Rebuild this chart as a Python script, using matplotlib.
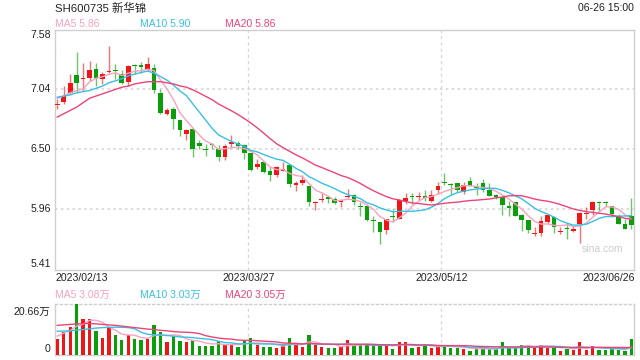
import matplotlib
matplotlib.use("Agg")
import matplotlib.pyplot as plt
import numpy as np
import pandas as pd

plt.rcParams['font.family'] = ['Liberation Sans', 'Noto Sans CJK SC', 'DejaVu Sans']

# ---- data ----
title = "SH600735 新华锦"
stamp = "06-26 15:00"
date_labels = ["2023/02/13", "2023/03/27", "2023/05/12", "2023/06/26"]
price_ticks = [7.58, 7.04, 6.50, 5.96, 5.41]
price_tick_labels = ["7.58", "7.04", "6.50", "5.96", "5.41"]
vol_max = 20.66
ma_text = ["MA5 5.86", "MA10 5.90", "MA20 5.86"]
vma_text = ["MA5 3.08万", "MA10 3.03万", "MA20 3.05万"]

opens = [6.902, 6.929, 7.01, 7.169, 7.13, 7.145, 7.226, 7.13, 7.199, 7.217,
         7.175, 7.106, 7.265, 7.265, 7.22, 7.235, 7.01, 6.821, 6.866, 6.764,
         6.635, 6.68, 6.56, 6.497, 6.542, 6.50, 6.431, 6.551, 6.56, 6.539,
         6.461, 6.335, 6.38, 6.299, 6.266, 6.305, 6.356, 6.179, 6.191, 6.164,
         6.011, 6.041, 6.065, 6.05, 6.02, 6.071, 6.089, 5.987, 5.99, 5.852,
         5.84, 5.771, 5.897, 5.864, 6.035, 6.077, 6.071, 6.08, 6.029, 6.131,
         6.20, 6.179, 6.191, 6.116, 6.215, 6.158, 6.191, 6.131, 6.089, 6.065,
         5.99, 6.02, 5.909, 5.861, 5.732, 5.744, 5.84, 5.891, 5.747, 5.783,
         5.756, 5.825, 5.918, 5.951, 6.023, 6.02, 5.99, 5.90, 5.825, 5.90]
closes = [6.908, 6.98, 7.10, 7.10, 7.139, 7.214, 7.145, 7.175, 7.208, 7.208,
          7.094, 7.25, 7.256, 7.241, 7.271, 7.031, 6.83, 6.851, 6.77, 6.671,
          6.674, 6.50, 6.53, 6.491, 6.536, 6.431, 6.53, 6.569, 6.53, 6.461,
          6.311, 6.365, 6.29, 6.266, 6.341, 6.32, 6.185, 6.197, 6.221, 6.026,
          6.026, 6.05, 6.053, 6.014, 6.041, 6.077, 6.026, 5.981, 5.855, 5.846,
          5.75, 5.864, 5.891, 6.041, 6.059, 6.071, 6.077, 6.059, 6.089, 6.17,
          6.191, 6.173, 6.134, 6.179, 6.17, 6.152, 6.131, 6.08, 6.065, 5.999,
          5.969, 5.90, 5.861, 5.765, 5.738, 5.849, 5.906, 5.795, 5.753, 5.777,
          5.78, 5.921, 5.924, 6.02, 6.017, 6.011, 5.915, 5.819, 5.774, 5.81]
highs = [6.95, 7.07, 7.181, 7.379, 7.28, 7.301, 7.28, 7.199, 7.43, 7.271,
         7.22, 7.259, 7.274, 7.289, 7.331, 7.271, 7.04, 6.875, 6.881, 6.764,
         6.68, 6.68, 6.581, 6.551, 6.56, 6.539, 6.551, 6.629, 6.575, 6.545,
         6.461, 6.41, 6.395, 6.335, 6.35, 6.38, 6.356, 6.215, 6.269, 6.164,
         6.035, 6.11, 6.071, 6.071, 6.047, 6.14, 6.095, 6.02, 5.999, 5.90,
         5.84, 5.87, 5.96, 6.05, 6.104, 6.104, 6.11, 6.131, 6.131, 6.20,
         6.284, 6.191, 6.191, 6.20, 6.245, 6.191, 6.23, 6.191, 6.095, 6.065,
         6.035, 6.02, 5.915, 5.861, 5.795, 5.90, 5.906, 5.90, 5.795, 5.834,
         5.801, 5.93, 5.981, 6.035, 6.029, 6.035, 5.99, 5.915, 5.87, 6.056]
lows = [6.86, 6.911, 6.995, 7.01, 7.025, 7.115, 7.07, 7.091, 7.19, 7.13,
        7.085, 7.07, 7.175, 7.19, 7.205, 7.01, 6.821, 6.809, 6.68, 6.62,
        6.581, 6.431, 6.50, 6.44, 6.50, 6.395, 6.401, 6.521, 6.50, 6.41,
        6.299, 6.32, 6.284, 6.215, 6.245, 6.299, 6.155, 6.125, 6.179, 5.984,
        5.954, 6.02, 6.011, 6.005, 5.975, 6.059, 5.996, 5.894, 5.849, 5.75,
        5.645, 5.729, 5.84, 5.864, 6.005, 6.005, 6.041, 6.035, 6.02, 6.095,
        6.179, 6.089, 6.11, 6.095, 6.164, 6.086, 6.116, 6.08, 6.05, 5.906,
        5.894, 5.894, 5.756, 5.744, 5.714, 5.714, 5.825, 5.744, 5.735, 5.69,
        5.75, 5.654, 5.87, 5.906, 5.945, 5.984, 5.885, 5.819, 5.774, 5.774]
volumes = [6.61, 9.23, 11.29, 20.66, 14.46, 14.46, 9.64, 7.02, 11.02, 8.26,
           6.20, 7.99, 6.61, 6.20, 6.61, 11.98, 9.50, 5.10, 7.57, 5.51,
           5.10, 6.20, 3.72, 3.72, 3.72, 5.51, 4.13, 4.13, 3.44, 5.51,
           7.02, 4.13, 3.44, 3.44, 3.03, 3.86, 7.02, 3.86, 3.44, 8.26,
           3.86, 3.44, 3.03, 3.03, 3.44, 5.92, 4.13, 3.86, 3.86, 3.86,
           4.54, 3.86, 2.48, 5.10, 5.10, 3.03, 3.44, 4.13, 3.03, 3.44,
           3.72, 3.03, 3.03, 2.62, 1.79, 2.34, 3.03, 2.34, 2.34, 5.10,
           3.03, 3.03, 4.13, 4.13, 3.03, 4.13, 3.03, 3.03, 1.79, 2.62,
           2.07, 5.10, 2.07, 3.72, 2.07, 2.07, 2.62, 2.07, 1.79, 6.61]

# moving-average values at the start of the window (history before 02/13)
ma5_head = [6.96, 6.98, 7.01, 7.03]
ma10_head = [6.97, 6.98, 6.99, 7.01, 7.02, 7.03, 7.05, 7.07, 7.10]
ma20_head = [6.79, 6.82, 6.85, 6.88, 6.92, 6.96, 6.98, 7.00, 7.02, 7.04,
             7.06, 7.07, 7.09, 7.10, 7.11, 7.11, 7.11, 7.10, 7.09]
vma5_head = [7.6, 8.9, 9.9, 11.7]
vma10_head = [9.6, 9.7, 9.8, 10.1, 10.3, 10.6, 10.9, 11.1, 11.2]
vma20_head = [12.0, 12.2, 12.4, 12.6, 12.7, 12.8, 12.6, 12.4, 12.2, 12.0,
              11.7, 11.4, 11.1, 10.8, 10.5, 10.3, 10.0, 9.8, 9.5]

RED = '#f01616'
GREEN = '#0a9e0a'
MA_COLORS = ['#f7a3c0', '#38c0e2', '#ec4479']
GRID = '#d6d6d6'


def moving(vals, n, head):
	m = pd.Series(vals).rolling(n).mean().to_numpy()
	m[:len(head)] = head
	return m


x = np.arange(len(closes))
o = np.array(opens)
c = np.array(closes)
up = c >= o
cols = np.where(up, RED, GREEN)

fig = plt.figure(figsize=(6.4, 3.6), dpi=100)
W, H = 640., 360.
L, R = 54.7, 634.
ax = fig.add_axes([L/W, 1-269.7/H, (R-L)/W, 240/H])
axv = fig.add_axes([L/W, 1-355/H, (R-L)/W, 51/H])

for a in (ax, axv):
	a.set_xlim(-0.4, 89.4)
	a.set_xticks([])
	a.set_yticks([])
	for s in a.spines.values():
		s.set_color('#cfcfcf')
		s.set_linewidth(1)
	for gx in (29.5, 59.5):
		a.axvline(gx, color=GRID, lw=0.9, ls=(0, (2.5, 2.5)), zorder=0)

# price panel
ax.set_ylim(price_ticks[-1], price_ticks[0])
for p in price_ticks[1:-1]:
	ax.axhline(p, color=GRID, lw=1.2, ls=(0, (1.5, 2)), zorder=0)
for p, lab in zip(price_ticks, price_tick_labels):
	va = 'center'
	dy = 0
	if p == price_ticks[0]:
		dy = -5.5
	elif p == price_ticks[-1]:
		dy = 6
	ax.annotate(lab, (0, p), xycoords=('axes fraction', 'data'), xytext=(-4, dy),
				textcoords='offset pixels', ha='right', va=va, fontsize=7.6, color='#222222')

ax.vlines(x, lows, highs, colors=cols, lw=1, alpha=0.6, zorder=2)
body = np.maximum(np.abs(c - o), 0.009)
ax.bar(x, body, bottom=np.minimum(o, c), width=0.72, color=cols, zorder=3)

for n, head, col in zip((5, 10, 20), (ma5_head, ma10_head, ma20_head), MA_COLORS):
	ax.plot(x, moving(closes, n, head), color=col, lw=1.0, zorder=4)

ax.text(0.945, 0.085, "sina.com", transform=ax.transAxes, ha='center', va='center',
		fontsize=7.5, color='#cccccc')

# volume panel
axv.set_ylim(0, vol_max)
axv.spines['top'].set_linestyle((0, (1.5, 2)))
axv.bar(x, volumes, width=0.52, color=cols, zorder=3)
for n, head, col in zip((5, 10, 20), (vma5_head, vma10_head, vma20_head), MA_COLORS):
	axv.plot(x, moving(volumes, n, head), color=col, lw=1.0, zorder=4)
axv.annotate("%.2f万" % vol_max, (0, vol_max), xycoords=('axes fraction', 'data'), xytext=(-4, -7.5),
			 textcoords='offset pixels', ha='right', va='center', fontsize=7.6, color='#222222')
axv.annotate("0", (0, 0), xycoords=('axes fraction', 'data'), xytext=(-4, 6),
			 textcoords='offset pixels', ha='right', va='center', fontsize=7.6, color='#222222')

# header texts
fig.text(55/W, 1-8/H, title, ha='left', va='center', fontsize=8.2, color='#222222')
fig.text(634/W, 1-8/H, stamp, ha='right', va='center', fontsize=7.6, color='#222222')
for xx, t, col in zip((55, 140, 225), ma_text, MA_COLORS):
	fig.text(xx/W, 1-24.3/H, t, ha='left', va='center', fontsize=7.5, color=col)
for xx, t, col in zip((55, 140, 225), vma_text, MA_COLORS):
	fig.text(xx/W, 1-295/H, t, ha='left', va='center', fontsize=7.5, color=col)

# date labels
for xx, t, ha in zip((55, 248.5, 441.5, 635), date_labels, ('left', 'center', 'center', 'right')):
	fig.text(xx/W, 1-278/H, t, ha=ha, va='center', fontsize=7.6, color='#222222')

fig.savefig("out.png", dpi=100)
